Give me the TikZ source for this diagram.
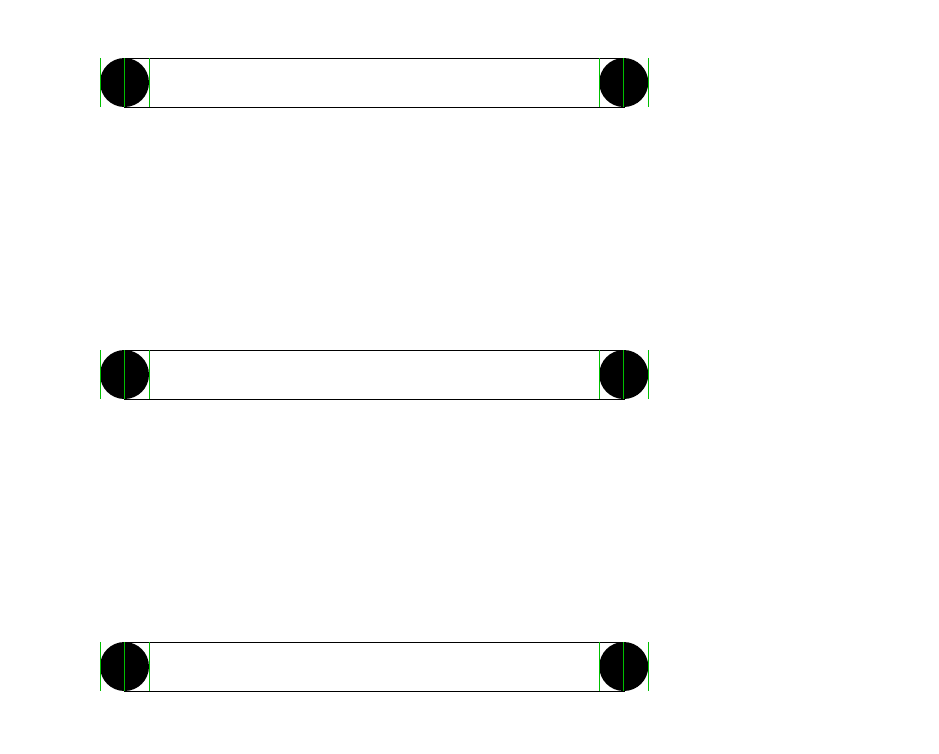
\documentclass[tikz,border=0pt]{standalone}
\begin{document}
\begin{tikzpicture}[x=1pt,y=-1pt,line width=0.9pt,
  barbox/.style={draw=black,minimum width=499.5pt,minimum height=49pt,inner sep=0pt,outer sep=0pt},
  endball/.style={circle,fill=black,minimum size=49pt,inner sep=0pt,outer sep=0pt},
  guide/.style={draw=green!75!black,line width=0.9pt}]
\useasboundingbox (0,0) rectangle (939,753);
\foreach \i/\y in {1/82.5,2/374.5,3/666.5}{
  \node[barbox] (bar\i) at (374.25,\y) {};
  \node[endball] (l\i) at (124.5,\y) {};
  \node[endball] (r\i) at (623.75,\y) {};
  \draw[guide] (l\i.west |- l\i.north) -- (l\i.west |- l\i.south);
  \draw[guide] (l\i.north) -- (l\i.south);
  \draw[guide] (l\i.east |- l\i.north) -- (l\i.east |- l\i.south);
  \draw[guide] (r\i.west |- r\i.north) -- (r\i.west |- r\i.south);
  \draw[guide] (r\i.north) -- (r\i.south);
  \draw[guide] (r\i.east |- r\i.north) -- (r\i.east |- r\i.south);
}
\end{tikzpicture}
\end{document}
